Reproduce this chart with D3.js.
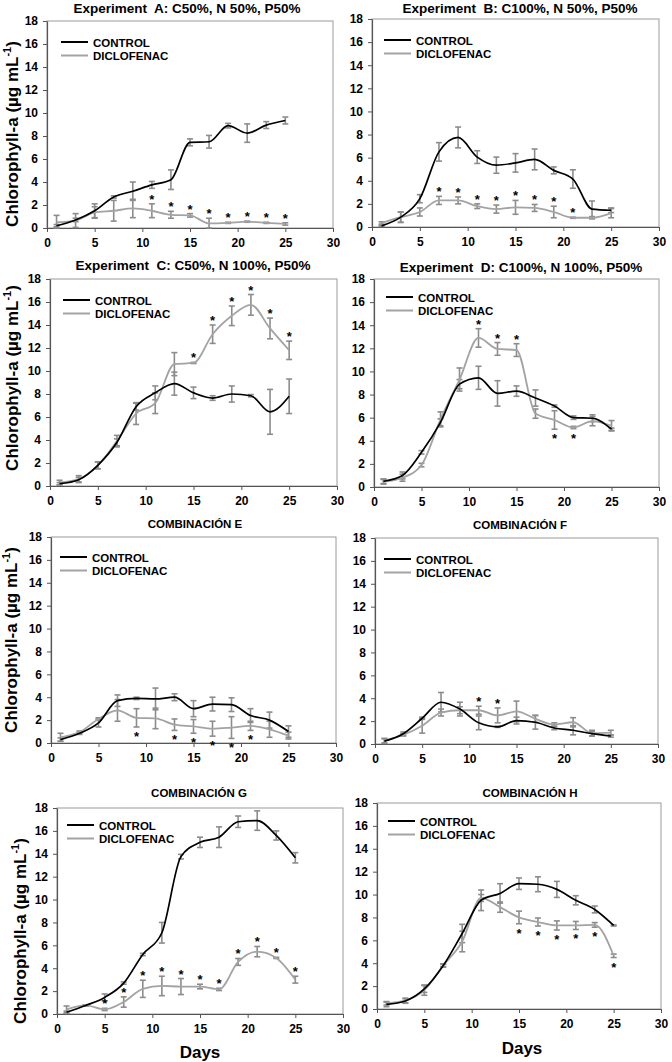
<!DOCTYPE html>
<html><head><meta charset="utf-8">
<script src="https://cdn.jsdelivr.net/npm/d3@7"></script>
<style>body{margin:0;background:#fff}svg{display:block}text{font-family:Arial,"Liberation Sans",sans-serif;font-weight:bold;white-space:pre}</style>
</head><body>
<script>
// ---------- DATA ----------
const days = [1,3,5,7,9,11,13,15,17,19,21,23,25];
const xTicks = [0,5,10,15,20,25,30];
const yTicks = [0,2,4,6,8,10,12,14,16,18];
const seriesNames = ["CONTROL","DICLOFENAC"];
const titles = ["Experiment  A: C50%, N 50%, P50%","Experiment  B: C100%, N 50%, P50%",
  "Experiment  C: C50%, N 100%, P50%","Experiment  D: C100%, N 100%, P50%",
  "COMBINACIÓN E","COMBINACIÓN F","COMBINACIÓN G","COMBINACIÓN H"];

const aControl   = [0.2,0.7,1.5,2.7,3.2,3.75,4.2,7.45,7.5,8.9,8.25,8.95,9.35];
const aControlSd = [0.1,0.15,0.6,0.1,0.8,0.3,0.85,0.3,0.55,0.2,0.8,0.3,0.3];
const aDiclo     = [0.5,0.65,1.35,1.5,1.7,1.5,1.15,1.1,0.4,0.45,0.55,0.45,0.35];
const aDicloSd   = [0.6,0.6,0.5,0.9,0.8,0.6,0.3,0.15,0.45,0.05,0.05,0.05,0.1];
const aStars     = [0,0,0,0,0,1,1,1,1,1,1,1,1];

const bControl   = [0.1,0.85,2.45,6.5,7.75,6.05,5.35,5.55,5.85,4.9,4.15,1.55,1.45];
const bControlSd = [0.05,0.45,0.35,0.8,0.9,0.55,0.7,0.8,0.9,0.3,0.8,0.7,0.2];
const bDiclo     = [0.35,0.85,1.3,2.3,2.3,1.8,1.55,1.7,1.65,1.3,0.8,0.8,1.2];
const bDicloSd   = [0.1,0.45,0.35,0.35,0.3,0.2,0.35,0.6,0.3,0.5,0.05,0.1,0.4];
const bStars     = [0,0,0,1,1,1,1,1,1,1,1,0,0];

const cControl   = [0.2,0.55,1.8,3.8,6.9,8.1,8.9,8.1,7.65,8.0,7.85,6.45,7.8];
const cControlSd = [0.1,0.2,0.3,0.3,0.3,0.6,1.0,0.5,0.2,0.7,0.1,1.95,1.5];
const cDiclo     = [0.3,0.6,1.8,3.9,6.3,7.2,10.6,10.7,13.2,14.8,15.75,13.7,11.8];
const cDicloSd   = [0.2,0.3,0.3,0.5,0.95,0.9,1.0,0.05,0.8,0.85,0.9,0.9,0.8];
const cStars     = [0,0,0,0,0,0,0,1,1,1,1,1,1];

const dControl   = [0.5,1.0,3.0,5.6,8.9,9.45,8.1,8.3,7.7,7.0,6.0,5.95,5.0];
const dControlSd = [0.2,0.3,0.15,0.3,0.4,1.0,1.1,0.45,0.7,0.1,0.15,0.3,0.1];
const dDiclo     = [0.45,0.8,1.9,5.85,9.3,12.9,11.95,11.85,6.35,5.8,5.15,5.7,5.3];
const dDicloSd   = [0.2,0.3,0.15,0.65,1.0,0.8,0.55,0.55,0.4,0.8,0.1,0.4,0.45];
const dStars     = [0,0,0,0,0,1,1,1,0,-1,-1,0,0];

const eControl   = [0.3,0.85,1.75,3.7,3.9,3.85,4.0,3.0,3.4,3.35,2.4,2.0,1.0];
const eControlSd = [0.15,0.1,0.35,0.5,0.1,0.95,0.3,0.7,0.6,0.6,0.6,0.7,0.5];
const eDiclo     = [0.5,0.95,2.1,2.85,2.2,2.15,1.6,1.45,1.25,1.35,1.5,1.2,0.65];
const eDicloSd   = [0.35,0.1,0.1,0.95,0.8,0.9,0.5,0.6,0.65,0.95,0.4,0.7,0.3];
const eStars     = [0,0,0,0,-1,0,-1,-1,-1,-1,-1,0,0];

const fControl   = [0.25,0.9,2.25,3.65,3.05,1.85,1.5,2.05,1.9,1.4,1.2,0.9,0.7];
const fControlSd = [0.2,0.15,0.1,0.85,0.6,0.6,0.05,0.3,0.6,0.15,0.4,0.2,0.1];
const fDiclo     = [0.3,0.8,1.6,2.75,2.95,2.95,2.5,2.85,2.2,1.7,1.9,0.95,1.0];
const fDicloSd   = [0.2,0.1,0.65,0.3,0.3,0.35,0.65,0.9,0.3,0.15,0.4,0.25,0.2];
const fStars     = [0,0,0,0,0,1,1,0,0,0,0,0,0];

const gControl   = [0.15,0.75,1.45,2.7,5.2,7.1,13.75,15.0,15.45,16.8,16.9,15.6,13.65];
const gControlSd = [0.1,0.05,0.3,0.1,0.1,0.9,0.2,0.45,0.9,0.5,0.85,0.4,0.45];
const gDiclo     = [0.4,0.75,0.4,1.05,2.2,2.45,2.4,2.4,2.15,4.55,5.45,4.9,3.0];
const gDicloSd   = [0.3,0.05,0.1,0.45,0.75,0.85,0.7,0.2,0.1,0.3,0.45,0.05,0.3];
const gStars     = [0,0,1,1,1,1,1,1,1,1,1,1,1];

const hControl   = [0.4,0.7,1.75,3.8,6.6,9.5,10.1,10.95,10.9,10.45,9.5,8.7,7.3];
const hControlSd = [0.2,0.2,0.3,0.15,0.8,0.9,0.85,0.5,0.65,0.7,0.4,0.3,0.05];
const hDiclo     = [0.5,0.75,1.65,3.8,5.9,9.7,8.9,8.0,7.6,7.3,7.3,7.35,4.65];
const hDicloSd   = [0.15,0.2,0.45,0.1,0.9,0.3,0.45,0.55,0.35,0.4,0.35,0.2,0.15];
const hStars     = [0,0,0,0,0,0,0,-1,-1,-1,-1,-1,-1];

const panelData = [
  [aControl,aControlSd,aDiclo,aDicloSd,aStars],
  [bControl,bControlSd,bDiclo,bDicloSd,bStars],
  [cControl,cControlSd,cDiclo,cDicloSd,cStars],
  [dControl,dControlSd,dDiclo,dDicloSd,dStars],
  [eControl,eControlSd,eDiclo,eDicloSd,eStars],
  [fControl,fControlSd,fDiclo,fDicloSd,fStars],
  [gControl,gControlSd,gDiclo,gDicloSd,gStars],
  [hControl,hControlSd,hDiclo,hDicloSd,hStars]
];

// ---------- LAYOUT ----------
const layout = [
  {x0:47, x1:333, yT:21, yB:228, tx:187, ty:13, ts:13.5, lx:61, ly:42, ylab:[18,134]},
  {x0:372,x1:659, yT:19, yB:227, tx:520, ty:13, ts:13.5, lx:384,ly:40},
  {x0:50, x1:337, yT:279,yB:486, tx:193, ty:270,ts:13.5, lx:63, ly:300, ylab:[18,378]},
  {x0:374,x1:659, yT:279,yB:487, tx:521, ty:272,ts:13.5, lx:386,ly:297},
  {x0:51, x1:336, yT:537,yB:743, tx:195, ty:528,ts:11.5, lx:60, ly:557, ylab:[17,640]},
  {x0:375,x1:658, yT:538,yB:744, tx:520, ty:529,ts:11.5, lx:384,ly:559},
  {x0:57, x1:343, yT:808,yB:1014,tx:199, ty:797,ts:11.5, lx:67, ly:825, ylab:[26,931], days:[200,1058]},
  {x0:377,x1:661, yT:803,yB:1009,tx:530, ty:797,ts:11.5, lx:388,ly:821, days:[522,1054]}
];

const W = 672, H = 1062;
const svg = d3.select("body").append("svg").attr("width",W).attr("height",H);
const colors = ["#000000","#a3a3a3"];
const errColor = "#8c8c8c";

layout.forEach((L,i) => {
  const [ctrl, ctrlSd, dic, dicSd, stars] = panelData[i];
  const x = d3.scaleLinear().domain([0,30]).range([L.x0,L.x1]);
  const y = d3.scaleLinear().domain([0,18]).range([L.yB,L.yT]);
  const g = svg.append("g");

  // frame
  g.append("rect").attr("x",L.x0).attr("y",L.yT).attr("width",L.x1-L.x0).attr("height",L.yB-L.yT)
    .attr("fill","none").attr("stroke","#9a9a9a").attr("stroke-width",1);

  // axes
  const xa = g.append("g").attr("transform",`translate(0,${L.yB})`)
    .call(d3.axisBottom(x).tickValues(xTicks).tickSize(4).tickSizeOuter(0).tickPadding(6));
  const ya = g.append("g").attr("transform",`translate(${L.x0},0)`)
    .call(d3.axisLeft(y).tickValues(yTicks).tickSize(4).tickSizeOuter(0).tickPadding(5));
  [xa,ya].forEach(a => {
    a.select(".domain").attr("stroke","#555").attr("stroke-width",1.2);
    a.selectAll(".tick line").attr("stroke","#555");
    a.selectAll(".tick text").attr("font-size",12).attr("font-weight","bold").attr("fill","#000")
      .attr("font-family",'Arial,"Liberation Sans",sans-serif');
  });

  // title
  g.append("text").attr("x",L.tx).attr("y",L.ty).attr("text-anchor","middle")
    .attr("font-size",L.ts).text(titles[i]);

  // error bars
  const series = [[ctrl,ctrlSd],[dic,dicSd]];
  series.forEach(([v,sd]) => {
    days.forEach((d,k) => {
      const cx = x(d), yt = y(v[k]+sd[k]), yb = y(Math.max(0,v[k]-sd[k]));
      g.append("line").attr("x1",cx).attr("x2",cx).attr("y1",yt).attr("y2",yb)
        .attr("stroke",errColor).attr("stroke-width",1.6);
      [yt,yb].forEach(yy => g.append("line").attr("x1",cx-3).attr("x2",cx+3).attr("y1",yy).attr("y2",yy)
        .attr("stroke",errColor).attr("stroke-width",1.6));
    });
  });

  // lines
  const line = d3.line().x((d,k)=>x(days[k])).y(d=>y(d)).curve(d3.curveMonotoneX);
  g.append("path").attr("d",line(dic)).attr("fill","none").attr("stroke",colors[1]).attr("stroke-width",1.8);
  g.append("path").attr("d",line(ctrl)).attr("fill","none").attr("stroke",colors[0]).attr("stroke-width",1.7);

  // stars
  days.forEach((d,k) => {
    if (!stars[k]) return;
    const cy = stars[k] > 0 ? y(dic[k]+dicSd[k]) - 7 : y(Math.max(0,dic[k]-dicSd[k])) + 7;
    g.append("text").attr("x",x(d)).attr("y",cy+7).attr("text-anchor","middle")
      .attr("font-size",13).text("*");
  });

  // legend
  seriesNames.forEach((n,k) => {
    const ly = L.ly + k*13.5;
    g.append("line").attr("x1",L.lx).attr("x2",L.lx+27).attr("y1",ly).attr("y2",ly)
      .attr("stroke",colors[k]).attr("stroke-width",2);
    g.append("text").attr("x",L.lx+32).attr("y",ly+4.5).attr("font-size",11.5).text(n);
  });

  // y label
  if (L.ylab) {
    const t = g.append("text").attr("transform",`translate(${L.ylab[0]},${L.ylab[1]}) rotate(-90)`)
      .attr("text-anchor","middle").attr("font-size",17);
    t.append("tspan").text("Chlorophyll-a (µg mL");
    t.append("tspan").attr("font-size",11).attr("dy",-7).text("-1");
    t.append("tspan").attr("dy",7).text(")");
  }
  if (L.days) {
    g.append("text").attr("x",L.days[0]).attr("y",L.days[1]).attr("text-anchor","middle")
      .attr("font-size",17).text("Days");
  }
});
</script>
</body></html>
